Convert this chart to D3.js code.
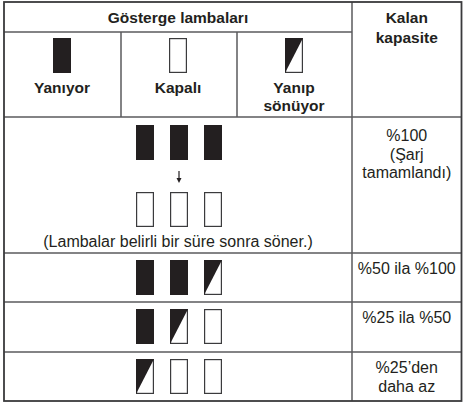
<!DOCTYPE html>
<html><head><meta charset="utf-8">
<script src="https://cdn.jsdelivr.net/npm/d3@7"></script>
<style>html,body{margin:0;padding:0;background:#fff;}svg{display:block;}</style>
</head><body>
<script>
// ---- data ----
const headerTitle = "Gösterge lambaları";
const capacityTitle = ["Kalan", "kapasite"];
const legendStates = ["on", "off", "blink"];
const legendLabels = [["Yanıyor"], ["Kapalı"], ["Yanıp", "sönüyor"]];
const rowLamps = [
  ["on", "on", "on"],
  ["on", "on", "blink"],
  ["on", "blink", "off"],
  ["blink", "off", "off"]
];
const afterLamps = ["off", "off", "off"];
const note = "(Lambalar belirli bir süre sonra söner.)";
const capacityLabels = [
  ["%100", "(Şarj", "tamamlandı)"],
  ["%50 ila %100"],
  ["%25 ila %50"],
  ["%25’den", "daha az"]
];

// ---- layout ----
const W = 463, H = 404;
const ink = "#231f20", lineC = "#5a5a5c";
const font = "'Liberation Sans', Arial, sans-serif";
const colEdges = [4, 121, 237, 352, 461.5];
const rowEdges = [2, 32, 117, 253, 302, 352, 401];
const lampW = 18, lampH = 35;

const svg = d3.select("body").append("svg").attr("width", W).attr("height", H);

const lampScale = d3.scalePoint().domain([0, 1, 2]).range([145, 213]);
const legendX = d3.scaleBand().domain(legendStates).range([colEdges[0], colEdges[3]]);

function lamp(g, state, cx, y) {
  const x0 = cx - lampW / 2, x1 = cx + lampW / 2, y1 = y + lampH;
  if (state === "on") {
    g.append("rect").attr("x", x0).attr("y", y).attr("width", lampW).attr("height", lampH).attr("fill", ink);
  } else {
    g.append("rect").attr("x", x0 + 0.6).attr("y", y + 0.6).attr("width", lampW - 1.2).attr("height", lampH - 1.2)
      .attr("fill", "#fff").attr("stroke", "#3b3b3d").attr("stroke-width", 1.2);
    if (state === "blink") {
      g.append("path").attr("d", `M${x0},${y}L${x1},${y}L${x0},${y1}Z`).attr("fill", ink);
    }
  }
}

function textLines(lines, cx, y0, lh, bold) {
  const t = svg.append("text").attr("text-anchor", "middle").attr("font-family", font)
    .attr("font-size", bold ? 15.5 : 16).attr("fill", ink).attr("font-weight", bold ? "bold" : "normal");
  lines.forEach((s, i) => t.append("tspan").attr("x", cx).attr("y", y0 + i * lh).text(s));
}

// header
textLines([headerTitle], (colEdges[0] + colEdges[3]) / 2, 23, 0, true);
textLines(capacityTitle, (colEdges[3] + colEdges[4]) / 2, 23, 20, true);

const lg = svg.append("g");
legendStates.forEach((s, i) => {
  const cx = legendX(s) + legendX.bandwidth() / 2;
  lamp(lg, s, cx, 38);
  textLines(legendLabels[i], cx, 93, 17.5, true);
});

// rows
const rg = svg.append("g");
rowLamps.forEach((row, r) => {
  const top = r === 0 ? 125 : rowEdges[r + 2] + 7;
  row.forEach((s, i) => lamp(rg, s, lampScale(i), top));
});
afterLamps.forEach((s, i) => lamp(rg, s, lampScale(i), 192));
// arrow
const ax = lampScale(1);
svg.append("line").attr("x1", ax).attr("x2", ax).attr("y1", 171).attr("y2", 180)
  .attr("stroke", ink).attr("stroke-width", 1.2);
svg.append("path").attr("d", `M${ax - 2.5},178L${ax + 2.5},178L${ax},183Z`).attr("fill", ink);
textLines([note], (colEdges[0] + colEdges[3]) / 2, 247, 0, false);

// capacity labels
const capCx = (colEdges[3] + colEdges[4]) / 2;
capacityLabels.forEach((lines, r) => {
  const top = rowEdges[r + 2];
  textLines(lines, capCx, top + (r === 0 ? 24 : 21), 18.5, false);
});

// grid lines
const gl = svg.append("g").attr("stroke", lineC).attr("stroke-width", 1.5);
gl.append("line").attr("x1", colEdges[0]).attr("x2", colEdges[3]).attr("y1", rowEdges[1]).attr("y2", rowEdges[1]);
rowEdges.slice(2, 6).forEach(y => gl.append("line").attr("x1", colEdges[0]).attr("x2", colEdges[4]).attr("y1", y).attr("y2", y));
[colEdges[1], colEdges[2]].forEach(x => gl.append("line").attr("x1", x).attr("x2", x).attr("y1", rowEdges[1]).attr("y2", rowEdges[2]));
gl.append("line").attr("x1", colEdges[3]).attr("x2", colEdges[3]).attr("y1", rowEdges[0]).attr("y2", rowEdges[6]);
// outer border
svg.append("rect").attr("x", colEdges[0]).attr("y", rowEdges[0]).attr("width", colEdges[4] - colEdges[0])
  .attr("height", rowEdges[6] - rowEdges[0]).attr("fill", "none").attr("stroke", "#3a3a3c").attr("stroke-width", 1.8);
</script>
</body></html>
